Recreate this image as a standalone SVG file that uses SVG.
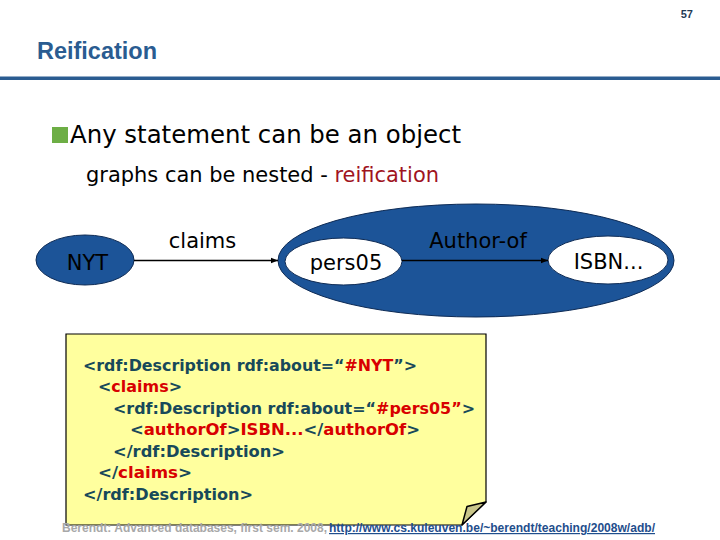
<svg xmlns="http://www.w3.org/2000/svg" width="720" height="540" viewBox="0 0 720 540">
<style>
.lbl{font-family:"DejaVu Sans",Verdana,sans-serif;font-size:21px;fill:#000;text-anchor:middle}
.code{font-family:"DejaVu Sans",Verdana,sans-serif;font-size:16px;font-weight:bold;fill:#17495A}
.r{fill:#D80000}
.blob{fill:#1C5498;stroke:#0E2B55;stroke-width:1}
.inner{fill:#fff;stroke:#0E2B55;stroke-width:1}
.edge{stroke:#000;stroke-width:1.5;fill:none;marker-end:url(#arr)}
</style>
<defs>
<marker id="arr" viewBox="0 0 10 10" refX="10" refY="5" markerWidth="5" markerHeight="5" orient="auto" markerUnits="strokeWidth">
<path d="M0,1 L10,5 L0,9 Z" fill="#000"/>
</marker>
</defs>
<rect width="720" height="540" fill="#fff"/>
<text x="693" y="18" text-anchor="end" font-family="'Liberation Sans',Arial,sans-serif" font-size="11" font-weight="bold" fill="#1F3A55">57</text>
<text x="37" y="59" font-family="'Liberation Sans',Arial,sans-serif" font-size="23" font-weight="bold" fill="#2A5C91" textLength="120" lengthAdjust="spacingAndGlyphs">Reification</text>
<rect x="0" y="76.5" width="720" height="3.5" fill="#2A5C91"/>
<rect x="52" y="127" width="16" height="16" fill="#6DAE45"/>
<text x="70" y="143" font-family="'DejaVu Sans',Verdana,sans-serif" font-size="25" fill="#000" textLength="391" lengthAdjust="spacingAndGlyphs">Any statement can be an object</text>
<text x="86" y="182" font-family="'DejaVu Sans',Verdana,sans-serif" font-size="21.5" fill="#000" textLength="353" lengthAdjust="spacingAndGlyphs">graphs can be nested - <tspan fill="#A0141E">reification</tspan></text>

<g id="statement">
<ellipse class="blob" cx="476" cy="260.5" rx="198" ry="56.5"/>
</g>
<g id="NYT">
<ellipse class="blob" cx="85" cy="260" rx="49" ry="25"/>
<text class="lbl" x="87.5" y="270">NYT</text>
</g>
<g id="pers05">
<ellipse class="inner" cx="343.5" cy="261.5" rx="58.5" ry="23.5"/>
<text class="lbl" x="346" y="270">pers05</text>
</g>
<g id="ISBN">
<ellipse class="inner" cx="608" cy="260" rx="60" ry="24"/>
<text class="lbl" x="608.5" y="269">ISBN...</text>
</g>
<g id="connectors">
<line class="edge" x1="134" y1="260.5" x2="278" y2="260.5"/>
<line class="edge" x1="402" y1="260.5" x2="548" y2="260.5"/>
<text class="lbl" x="202.5" y="248">claims</text>
<text class="lbl" x="478" y="248">Author-of</text>
</g>

<g id="note">
<path d="M66,334 H486 V502 L462,525 H66 Z" fill="#FFFF9E" stroke="#000" stroke-width="1.2"/>
<path d="M486,502 L467,506.5 L462,525 Z" fill="#C9C68A" stroke="#000" stroke-width="1.5" stroke-linejoin="round"/>
<text class="code" x="83" y="371" textLength="334" lengthAdjust="spacingAndGlyphs">&lt;rdf:Description rdf:about=“<tspan class="r">#NYT</tspan>”&gt;</text>
<text class="code" x="98" y="392" textLength="84" lengthAdjust="spacingAndGlyphs">&lt;<tspan class="r">claims</tspan>&gt;</text>
<text class="code" x="113" y="414" textLength="362" lengthAdjust="spacingAndGlyphs">&lt;rdf:Description rdf:about=“<tspan class="r">#pers05”</tspan>&gt;</text>
<text class="code" x="130" y="435" textLength="290" lengthAdjust="spacingAndGlyphs">&lt;<tspan class="r">authorOf</tspan>&gt;<tspan class="r">ISBN...</tspan>&lt;/<tspan class="r">authorOf</tspan>&gt;</text>
<text class="code" x="113" y="457" textLength="172" lengthAdjust="spacingAndGlyphs">&lt;/rdf:Description&gt;</text>
<text class="code" x="98" y="478" textLength="94" lengthAdjust="spacingAndGlyphs">&lt;/<tspan class="r">claims</tspan>&gt;</text>
<text class="code" x="83" y="500" textLength="170" lengthAdjust="spacingAndGlyphs">&lt;/rdf:Description&gt;</text>
</g>

<text x="62" y="532" font-family="'Liberation Sans',Arial,sans-serif" font-size="12" font-weight="bold" fill="#A8A8A8" textLength="265" lengthAdjust="spacingAndGlyphs">Berendt: Advanced databases, first sem. 2008, </text>
<text x="329" y="532" font-family="'Liberation Sans',Arial,sans-serif" font-size="12" font-weight="bold" fill="#1F4E8C" text-decoration="underline" textLength="326" lengthAdjust="spacingAndGlyphs">http://www.cs.kuleuven.be/~berendt/teaching/2008w/adb/</text>
</svg>
